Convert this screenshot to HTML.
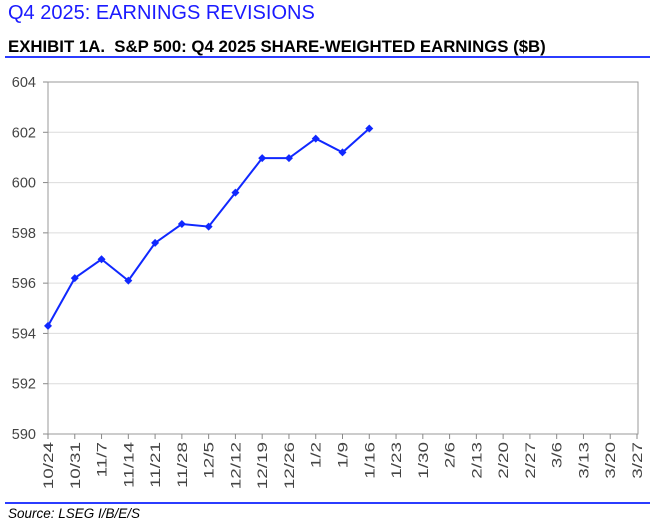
<!DOCTYPE html>
<html><head><meta charset="utf-8"><style>
body{margin:0;width:650px;height:525px;background:#fff;font-family:"Liberation Sans",Arial,sans-serif;position:relative;overflow:hidden}
.t{position:absolute;left:8px;top:2px;font-size:20px;color:#1a1aff}
.s{position:absolute;left:8px;top:37px;font-size:16.8px;font-weight:bold;color:#000}
.l{position:absolute;left:5px;right:0;height:2px;background:#2b3cff}
.src{position:absolute;left:8px;top:506px;font-size:13.5px;font-style:italic;color:#000}
</style></head><body>
<div class="t">Q4 2025: EARNINGS REVISIONS</div>
<div class="s">EXHIBIT 1A.&nbsp; S&amp;P 500: Q4 2025 SHARE-WEIGHTED EARNINGS ($B)</div>
<div class="l" style="top:56px"></div>
<div class="l" style="top:502px"></div>
<div class="src">Source: LSEG I/B/E/S</div>
<svg id="c" width="650" height="525" style="position:absolute;left:0;top:0"></svg>
<script>
const categories=["10/24","10/31","11/7","11/14","11/21","11/28","12/5","12/12","12/19","12/26","1/2","1/9","1/16","1/23","1/30","2/6","2/13","2/20","2/27","3/6","3/13","3/20","3/27"];
const values=[594.3,596.2,596.95,596.1,597.6,598.35,598.25,599.6,600.97,600.97,601.75,601.2,602.15];
const yTicks=[590,592,594,596,598,600,602,604];
const X0=48,X1=637,Y0=434,Y1=82,ymin=590,ymax=604;
const NS="http://www.w3.org/2000/svg";
const svg=document.getElementById('c');
function x(i){return X0+(X1-X0)*i/(categories.length-1);}
function y(v){return Y0-(v-ymin)/(ymax-ymin)*(Y0-Y1);}
function mk(t,a){const e=document.createElementNS(NS,t);for(const k in a)e.setAttribute(k,a[k]);svg.appendChild(e);return e;}
yTicks.forEach(v=>{
 if(v>ymin&&v<ymax){const g=mk('line',{x1:X0,x2:X1+1,y1:y(v),y2:y(v),stroke:'#dcdcdc','stroke-width':1});
 
 }
 const tk=mk('line',{x1:X0-5,x2:X0,y1:y(v),y2:y(v),stroke:'#888'});
 
 
 const t=mk('text',{x:36,y:y(v)+5,'text-anchor':'end','font-size':14.5,fill:'#444','font-family':'Liberation Sans, sans-serif'});
 t.textContent=v;
 
 
});
const fr=mk('rect',{x:X0,y:Y1,width:X1-X0+1,height:Y0-Y1,fill:'none',stroke:'#999','stroke-width':1});


categories.forEach((c,i)=>{
 const tk=mk('line',{x1:x(i),x2:x(i),y1:Y0,y2:Y0+5,stroke:'#888'});
 
 
 const t=mk('text',{x:0,y:0,'text-anchor':'end','font-size':14,fill:'#444','font-family':'Liberation Sans, sans-serif',transform:`translate(${x(i)+5},${Y0+8}) rotate(-90) scale(1.35,1)`});
 t.textContent=c;
 
 
});
const ln=mk('polyline',{points:values.map((v,i)=>x(i)+','+y(v)).join(' '),fill:'none',stroke:'#1028ff','stroke-width':2});


values.forEach((v,i)=>{
 const m=mk('path',{d:`M${x(i)},${y(v)-4}L${x(i)+4},${y(v)}L${x(i)},${y(v)+4}L${x(i)-4},${y(v)}Z`,fill:'#1028ff'});
 
 
});
</script>
</body></html>
